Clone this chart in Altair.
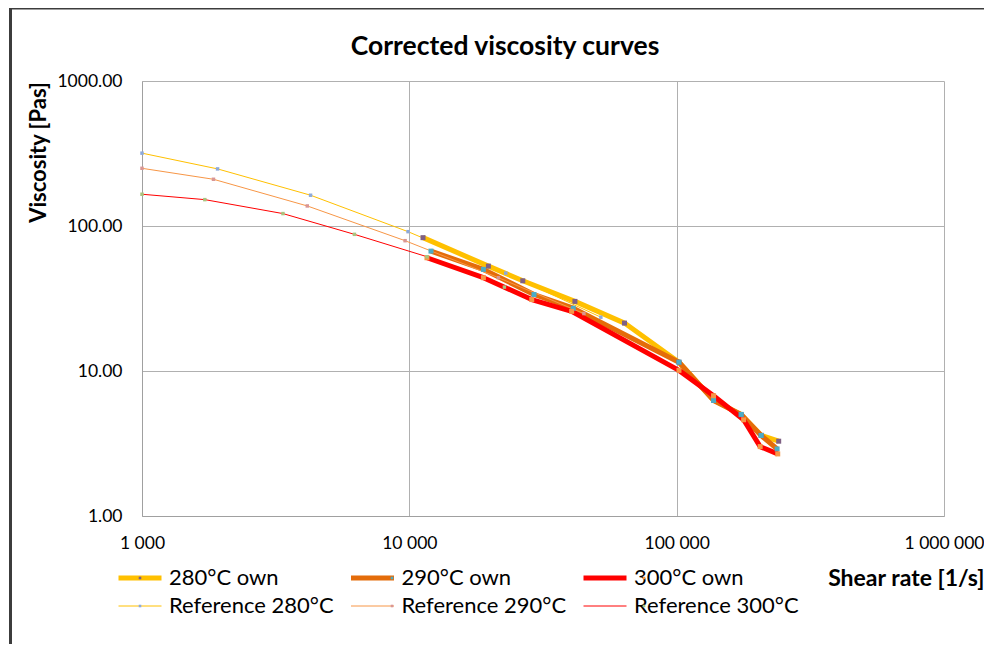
import altair as alt
import pandas as pd

# ---------------- data ----------------
series_names = ["280°C own", "290°C own", "300°C own",
                "Reference 280°C", "Reference 290°C", "Reference 300°C"]

shear_280_own = [11250, 19760, 26570, 41630, 63810, 102000, 137400, 174300, 207000, 240800]
visc_280_own = [83.1, 52.9, 41.9, 30.2, 21.4, 11.5, 6.3, 5.0, 3.6, 3.28]

shear_290_own = [12050, 18930, 29270, 41030, 102000, 137400, 174300, 207000, 237500]
visc_290_own = [67.1, 50.2, 33.7, 27.1, 11.5, 6.27, 5.02, 3.59, 2.90]

shear_300_own = [11640, 18930, 28700, 40470, 102000, 137400, 178000, 205300, 238800]
visc_300_own = [60.4, 44.0, 31.1, 25.8, 10.1, 6.75, 4.61, 3.01, 2.68]

shear_280_ref = [1000, 1917, 4272, 9890, 22950, 52050]
visc_280_ref = [318, 247.6, 163, 91.4, 47.3, 23.5]

shear_290_ref = [1000, 1851, 4152, 9640, 21540, 44980]
visc_290_ref = [250, 210, 137.5, 79.2, 44.0, 24.9]

shear_300_ref = [1000, 1718, 3367, 6232, 11640, 22680]
visc_300_ref = [165.6, 152, 121.8, 87.6, 61.4, 37.9]

x_ticks = [1000, 10000, 100000, 1000000]
x_tick_labels = ["1 000", "10 000", "100 000", "1 000 000"]
y_ticks = [1, 10, 100, 1000]

# ---------------- styles ----------------
line_colors = ["#FFC000", "#E46C0A", "#FF0000", "#FFC000", "#F79646", "#FF0000"]
line_widths = [5, 5, 5, 1, 1, 1]
marker_colors = ["#7F6084", "#4BACC6", "#F79646", "#8DA9DB", "#D99694", "#A9C47F"]
marker_sizes = [25, 25, 25, 12, 12, 12]

FONT = "Lato"

rows = []
all_x = [shear_280_own, shear_290_own, shear_300_own, shear_280_ref, shear_290_ref, shear_300_ref]
all_y = [visc_280_own, visc_290_own, visc_300_own, visc_280_ref, visc_290_ref, visc_300_ref]
for name, xs, ys in zip(series_names, all_x, all_y):
    for i, (xv, yv) in enumerate(zip(xs, ys)):
        rows.append({"series": name, "mk": name, "shear": xv, "visc": yv, "idx": i})
df = pd.DataFrame(rows)

label_expr = " : ".join(
    [f"datum.value == {v} ? '{t}'" for v, t in zip(x_ticks, x_tick_labels)]
) + " : ''"

W, H = 802, 435
PAD_L, PAD_T, PAD_R, PAD_B = 134, 73, 40, 128

x_enc = alt.X(
    "shear:Q",
    scale=alt.Scale(type="log", domain=[1000, 1000000], nice=False),
    axis=alt.Axis(
        values=x_ticks, labelExpr=label_expr, title="Shear rate [1/s]",
        titleFont=FONT, titleFontSize=23, titleFontWeight="bold", titleColor="#000000",
        titleX=842, titleY=62, titleAlign="right", titleBaseline="middle",
        labelFont=FONT, labelFontSize=17.5, labelColor="#000000",
        labelPadding=27, labelBaseline="middle", labelBound=False, labelFlush=False,
        labelOverlap=False, ticks=False, domainColor="#A0A0A0",
        gridColor="#B0B0B0", gridWidth=1,
    ),
)
y_enc = alt.Y(
    "visc:Q",
    scale=alt.Scale(type="log", domain=[1, 1000], nice=False),
    axis=alt.Axis(
        values=y_ticks, format=".2f", title="Viscosity [Pas]",
        titleFont=FONT, titleFontSize=22, titleFontWeight="bold", titleColor="#000000",
        titleAngle=270, titleX=-104, titleY=71, titleAlign="center", titleBaseline="middle",
        labelFont=FONT, labelFontSize=17.5, labelColor="#000000", labelPadding=20,
        labelBaseline="middle", labelBound=False, labelFlush=False, labelOverlap=False,
        ticks=False, domainColor="#A0A0A0", gridColor="#B0B0B0", gridWidth=1,
    ),
)

LEG_X, LEG_Y = -26, 486
legend_common = dict(
    orient="none", legendY=LEG_Y, columns=3, direction="horizontal", title=None,
    labelFont=FONT, labelFontSize=22, labelColor="#000000", labelOffset=5,
    symbolSize=1849, clipHeight=22, rowPadding=6, gridAlign="all", labelLimit=400,
)

lines = alt.Chart(df).mark_line(strokeCap="butt", strokeJoin="round").encode(
    x=x_enc, y=y_enc,
    color=alt.Color("series:N", scale=alt.Scale(domain=series_names, range=line_colors),
                    legend=alt.Legend(symbolType="stroke", legendX=LEG_X, columnPadding=14.5,
                                      **legend_common)),
    strokeWidth=alt.StrokeWidth("series:N",
                                scale=alt.Scale(type="ordinal", domain=series_names, range=line_widths)),
    detail="series:N",
    order=alt.Order("idx:Q"),
)

points = alt.Chart(df).mark_point(shape="square", filled=True, opacity=1, strokeWidth=0).encode(
    x="shear:Q", y="visc:Q",
    fill=alt.Fill("mk:N", sort=series_names, scale=alt.Scale(range=marker_colors),
                  legend=alt.Legend(symbolType="M-0.06,-0.06H0.06V0.06H-0.06Z", legendX=LEG_X,
                                    columnPadding=199, labelExpr="''",
                                    symbolStrokeWidth=5, symbolStrokeColor="transparent",
                                    **legend_common)),
    size=alt.Size("mk:N", sort=series_names,
                  scale=alt.Scale(type="ordinal", range=marker_sizes), legend=None),
)

frame = alt.Chart(pd.DataFrame({"v": [0]})).mark_rect(
    fill="transparent", stroke="#3C3C3C", strokeWidth=3
).encode(
    x=alt.value(-131.5), x2=alt.value(W + PAD_R + 20),
    y=alt.value(-73), y2=alt.value(H + PAD_B + 20),
)

chart = alt.layer(frame, lines, points).properties(
    width=W, height=H,
    title=alt.TitleParams("Corrected viscosity curves", font=FONT, fontSize=26.5,
                          fontWeight="bold", color="#000000", anchor="middle",
                          baseline="middle", dx=-38, dy=70.5),
    autosize=alt.AutoSizeParams(type="none"),
    padding={"left": PAD_L, "top": PAD_T, "right": PAD_R, "bottom": PAD_B},
    background="#FFFFFF",
).configure_view(stroke=None)

chart.save("out.html", embed_options={"renderer": "svg", "actions": False})
